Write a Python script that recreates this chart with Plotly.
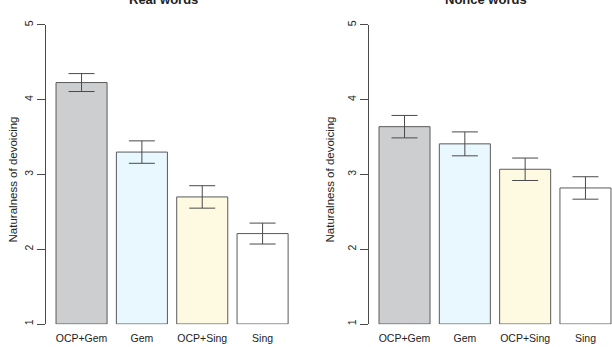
import plotly.graph_objects as go

categories = ["OCP+Gem", "Gem", "OCP+Sing", "Sing"]
real_means = [4.23, 3.30, 2.70, 2.21]
real_err = [0.12, 0.15, 0.15, 0.14]
nonce_means = [3.64, 3.41, 3.07, 2.82]
nonce_err = [0.15, 0.16, 0.15, 0.15]
bar_colors = ["#CDCED0", "#E9F7FE", "#FEFAE1", "#FFFFFF"]
y_ticks = [1, 2, 3, 4, 5]

W, H = 612, 347
font = "Liberation Sans, Arial, sans-serif"
txt = "#222222"
line = "#4a4a4a"

fig = go.Figure()
for means, errs, xa, ya in [(real_means, real_err, "x", "y"), (nonce_means, nonce_err, "x2", "y2")]:
    fig.add_trace(go.Bar(
        x=categories, y=[m - 1 for m in means], base=1,
        marker=dict(color=bar_colors, line=dict(color="#5a5a5a", width=1)),
        error_y=dict(type="data", array=errs, color=line, thickness=1, width=13),
        xaxis=xa, yaxis=ya, showlegend=False, width=0.846,
    ))

ydom = [(W and (H - 325) / H), (H - 21) / H]
common_y = dict(range=[0.996, 5.004], domain=ydom, tickvals=y_ticks, ticks="outside", ticklen=8,
                tickcolor=line, showline=True, linecolor=line, linewidth=1, showgrid=False,
                zeroline=False, tickangle=-90, tickfont=dict(family=font, size=10.5, color=txt))
common_x = dict(showgrid=False, zeroline=False, showline=False, ticks="",
                tickfont=dict(family=font, size=10.5, color=txt), ticklabelstandoff=6)

fig.update_layout(
    width=W, height=H, margin=dict(l=0, r=0, t=0, b=0),
    plot_bgcolor="white", paper_bgcolor="white",
    xaxis=dict(domain=[46 / W, 300 / W], range=[-0.589, 3.62], anchor="y", **common_x),
    xaxis2=dict(domain=[369 / W, 1.0], range=[-0.589, 3.44], anchor="y2", **common_x),
    yaxis=dict(anchor="x", **common_y),
    yaxis2=dict(anchor="x2", **common_y),
    annotations=[
        dict(text="<b>Real words</b>", x=163 / W, y=1 - 5 / H, xref="paper", yref="paper",
             xanchor="center", yanchor="bottom", showarrow=False,
             font=dict(family=font, size=13, color=txt)),
        dict(text="<b>Nonce words</b>", x=486 / W, y=1 - 5 / H, xref="paper", yref="paper",
             xanchor="center", yanchor="bottom", showarrow=False,
             font=dict(family=font, size=13, color=txt)),
        dict(text="Naturalness of devoicing", x=13 / W, y=(H - 178) / H, xref="paper", yref="paper",
             xanchor="center", yanchor="middle", textangle=-90, showarrow=False,
             font=dict(family=font, size=11.5, color=txt)),
        dict(text="Naturalness of devoicing", x=330 / W, y=(H - 178) / H, xref="paper", yref="paper",
             xanchor="center", yanchor="middle", textangle=-90, showarrow=False,
             font=dict(family=font, size=11.5, color=txt)),
    ],
)

fig.write_html("out.html")
